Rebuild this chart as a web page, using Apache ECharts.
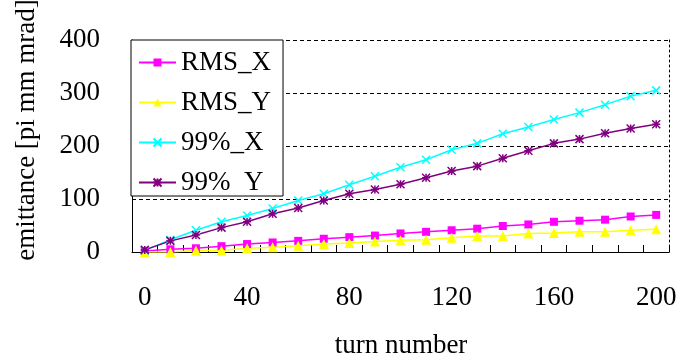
<!DOCTYPE html>
<html>
<head>
<meta charset="utf-8">
<script src="https://cdn.jsdelivr.net/npm/echarts@6/dist/echarts.min.js"></script>
<style>
  html, body { margin: 0; padding: 0; background: #fff; }
  #chart { width: 680px; height: 363px; }
</style>
</head>
<body>
<div id="chart"></div>
<script>
// Turn numbers along the x axis
var turns = ['0','10','20','30','40','50','60','70','80','90','100',
             '110','120','130','140','150','160','170','180','190','200'];

// Emittance [pi mm mrad] per turn
var rmsX = [2, 5, 7, 11, 15, 18, 21, 25, 28, 31, 35, 38, 41, 44, 49, 52, 57, 59, 61, 67, 70];
var rmsY = [0, 0, 3, 3, 7, 9, 12, 15, 17, 20, 22, 23, 27, 30, 30, 35, 36, 38, 38, 41, 43];
var p99X = [3, 23, 41, 57, 69, 82, 97, 110, 127, 143, 160, 174, 193, 205, 223, 236, 250, 263, 278, 294, 305];
var p99Y = [4, 21, 32, 46, 57, 72, 83, 97, 110, 118, 128, 140, 153, 162, 177, 191, 205, 213, 224, 233, 241];

var yMin = 0, yMax = 400, yStep = 100;

var serif = 'Liberation Serif, Times New Roman, serif';
var crossPath = 'path://M0,0 L10,10 M10,0 L0,10';
var starPath = 'path://M0,0 L10,10 M10,0 L0,10 M5,0 L5,10 M0,5 L10,5';

function lineSeries(name, data, color, symbol, size, stroked) {
  return {
    name: name,
    type: 'line',
    data: data,
    symbol: symbol,
    symbolSize: size,
    showAllSymbol: true,
    lineStyle: { color: color, width: 1.5 },
    itemStyle: stroked
      ? { color: 'none', borderColor: color, borderWidth: 1.5 }
      : { color: color, borderWidth: 0 },
    emphasis: { disabled: true },
    z: 3
  };
}

var chart = echarts.init(document.getElementById('chart'));
chart.setOption({
  animation: false,
  backgroundColor: '#fff',
  grid: { left: 132, right: 11, top: 40, bottom: 111, containLabel: false },
  legend: {
    orient: 'vertical',
    left: 131,
    top: 40,
    padding: [9, 12, 0, 7],
    itemGap: 13,
    itemWidth: 37,
    itemHeight: 10,
    backgroundColor: '#fff',
    borderColor: '#000',
    borderWidth: 1,
    borderRadius: 0,
    textStyle: { fontFamily: serif, fontSize: 27, color: '#000' },
    data: ['RMS_X', 'RMS_Y', '99%_X', '99%  Y'],
    z: 10
  },
  xAxis: {
    type: 'category',
    data: turns,
    boundaryGap: true,
    axisLine: { lineStyle: { color: '#000', width: 1 } },
    axisTick: { show: true, inside: true, length: 7, interval: 0, lineStyle: { color: '#000' } },
    axisLabel: { interval: 3, margin: 32, fontFamily: serif, fontSize: 27, color: '#000' },
    splitLine: { show: false }
  },
  yAxis: [{
    type: 'value',
    min: yMin, max: yMax, interval: yStep,
    axisLine: { show: true, lineStyle: { color: '#000', width: 1 } },
    axisTick: { show: false },
    axisLabel: { margin: 32, fontFamily: serif, fontSize: 27, color: '#000' },
    splitLine: { show: true, lineStyle: { color: '#000', width: 1, type: [4, 3] } }
  }, {
    type: 'value',
    position: 'right',
    min: yMin, max: yMax, interval: yStep,
    axisLine: { show: true, lineStyle: { color: '#000', width: 1, type: [2, 3] } },
    axisTick: { show: false },
    axisLabel: { show: false },
    splitLine: { show: false }
  }],
  graphic: [{
    type: 'text',
    x: 401, y: 346,
    style: {
      text: 'turn number', font: '27px ' + serif, fill: '#000',
      align: 'center', verticalAlign: 'middle',
      textAlign: 'center', textVerticalAlign: 'middle'
    }
  }, {
    type: 'text',
    x: 27, y: 130,
    rotation: Math.PI / 2,
    style: {
      text: 'emittance [pi mm mrad]', font: '27px ' + serif, fill: '#000',
      align: 'center', verticalAlign: 'middle',
      textAlign: 'center', textVerticalAlign: 'middle'
    }
  }],
  series: [
    lineSeries('RMS_X', rmsX, '#ff00ff', 'rect', 8, false),
    lineSeries('RMS_Y', rmsY, '#ffff00', 'triangle', 10, false),
    lineSeries('99%_X', p99X, '#00ffff', crossPath, 8, true),
    lineSeries('99%  Y', p99Y, '#800080', starPath, 8, true)
  ]
});
</script>
</body>
</html>
